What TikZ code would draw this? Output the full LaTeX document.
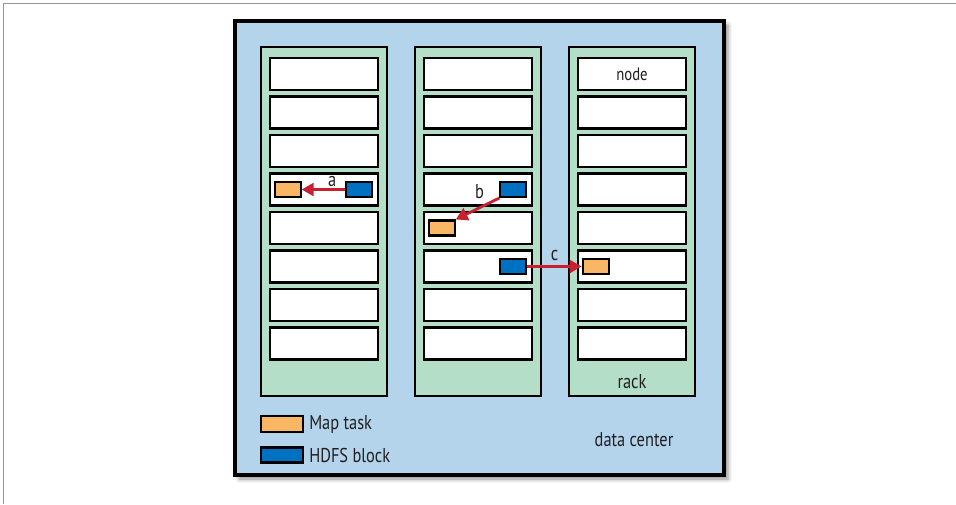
\documentclass[tikz,border=0pt]{standalone}
\usepackage{fontspec}
\setmainfont{PT Sans}[FakeStretch=0.82]
\usetikzlibrary{positioning,arrows.meta,shadows.blur}

\definecolor{dcblue}{RGB}{179,212,234}
\definecolor{rackgreen}{RGB}{180,222,200}
\definecolor{maporange}{RGB}{249,182,100}
\definecolor{hdfsblue}{RGB}{0,112,192}
\definecolor{movered}{RGB}{200,32,47}
\definecolor{framegray}{RGB}{150,150,150}
\definecolor{textblack}{RGB}{35,31,32}

\tikzset{
  dcbox/.style={draw,line width=3.4pt,fill=dcblue,minimum width=489pt,minimum height=454pt,inner sep=0pt,
    blur shadow={shadow xshift=4pt,shadow yshift=-4pt,shadow blur radius=4pt,shadow opacity=45}},
  rackbox/.style={draw,line width=2.8pt,fill=rackgreen,minimum width=126pt,minimum height=349pt,inner sep=0pt},
  nodebox/.style={draw,line width=2.8pt,fill=white,minimum width=108pt,minimum height=32pt,inner sep=0pt},
  maptask/.style={draw,line width=2.1pt,fill=maporange,minimum width=26pt,minimum height=15pt,inner sep=0pt},
  hdfsblock/.style={maptask,fill=hdfsblue},
  move/.style={draw=movered,line width=2.8pt,-{Triangle[length=12pt,width=13pt]}},
  lbl/.style={inner sep=1pt,text=textblack,font=\fontsize{20pt}{23pt}\selectfont},
}

\begin{document}
\begin{tikzpicture}[x=1pt,y=-1pt]
  \useasboundingbox (0,0) rectangle (956,504);
  \draw[framegray,line width=1pt] (3,504) -- (3,3) -- (956,3);

  % data center
  \node[dcbox] (dc) at (479.5,248) {};

  % racks with their nodes
  \foreach \r in {1,2,3}{
    \node[rackbox] (r\r) at ({324+154*(\r-1)},221.5) {};
    \foreach \n in {1,...,8}
      \node[nodebox] (r\r-\n) at ({324+154*(\r-1)},{74+38.5*(\n-1)}) {};
  }

  \node[lbl,font=\fontsize{18pt}{21pt}\selectfont] (nodelbl) at (r3-1) {node};
  \node[lbl,anchor=base] (racklbl) at ([yshift=9pt]r3.south) {rack};
  \node[lbl,anchor=base] (dclbl) at (634,446) {data center};

  % map tasks and blocks
  \node[maptask,anchor=west] (m1) at ([xshift=5pt]r1-4.west) {};
  \node[hdfsblock,anchor=east] (h1) at ([xshift=-6pt]r1-4.east) {};
  \node[hdfsblock,anchor=east] (h2) at ([xshift=-6pt]r2-4.east) {};
  \node[maptask,anchor=west] (m2) at ([xshift=5pt]r2-5.west) {};
  \node[hdfsblock,anchor=east] (h3) at ([xshift=-6pt]r2-6.east) {};
  \node[maptask,anchor=west] (m3) at ([xshift=5pt]r3-6.west) {};

  \draw[move] (h1.west) -- (m1.east) node[lbl,pos=0.3,anchor=south] {a};
  \draw[move] (h2.south west) -- (m2.north east) node[lbl,pos=0,anchor=base east,xshift=-13pt] {b};
  \draw[move] (h3.east) -- (m3.west) node[lbl,pos=0.5,anchor=south,yshift=3pt] {c};

  % legend
  \node[maptask,minimum width=42pt,minimum height=16pt] (lm) at (282,424) {};
  \node[hdfsblock,minimum width=42pt,minimum height=15pt] (lh) at (282,455) {};
  \node[lbl,right=4pt of lm] (lmt) {Map task};
  \node[lbl,right=4pt of lh] (lht) {HDFS block};
\end{tikzpicture}
\end{document}
